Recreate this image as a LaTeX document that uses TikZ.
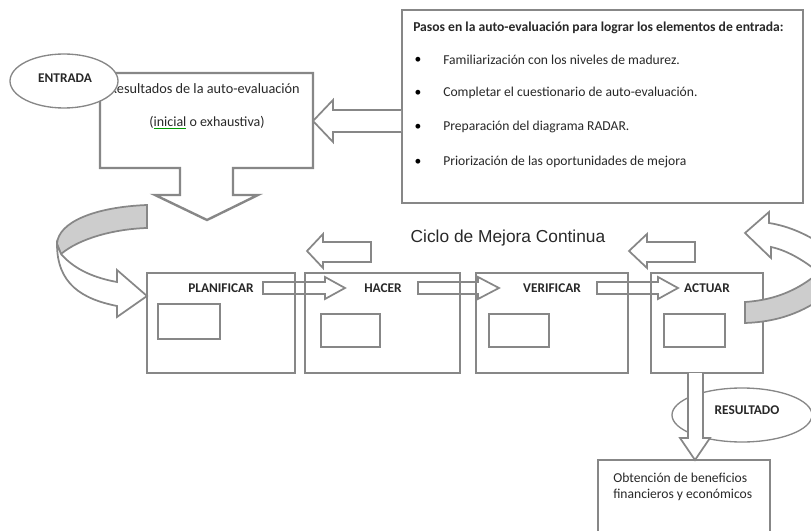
\documentclass[tikz,border=0pt]{standalone}
\usepackage{fontspec}
\setmainfont{Carlito}
\newfontfamily\arialf{Liberation Sans}
\usetikzlibrary{shapes.geometric}
\definecolor{boxgray}{RGB}{135,135,135}
\definecolor{bandgray}{RGB}{205,205,205}
\definecolor{txtc}{RGB}{40,40,40}
\begin{document}
\begin{tikzpicture}[x=0.75pt,y=-0.75pt,
  frame/.style={draw=boxgray, line width=1.8pt, line join=miter},
  innerbox/.style={draw=boxgray, line width=1.5pt},
  txt/.style={font=\fontsize{10.2}{12.75}\selectfont, text=txtc, inner sep=0pt},
  lbl/.style={font=\bfseries\fontsize{10}{12}\selectfont, text=txtc, inner sep=0pt},
  blockarrow/.style={draw=boxgray, line width=1.3pt, line join=miter},
  oval/.style={ellipse, draw=boxgray, line width=1pt, fill=white, inner sep=0pt},
]
\useasboundingbox (0,0) rectangle (811,531);
\clip (0,0) rectangle (811,531);

% ---------- results callout box ----------
\draw[frame, fill=white] (100,73) -- (313,73) -- (313,168) -- (233,168) -- (233,195) -- (258,195)
   -- (207,220) -- (155,195) -- (180,195) -- (180,168) -- (100,168) -- cycle;
\node[txt, font=\fontsize{10.7}{12.75}\selectfont, anchor=east] (res1) at (300,89) {Resultados de la auto-evaluación};
\node[txt, font=\fontsize{10.5}{12.75}\selectfont] (res2) at (207,123) {({\color{green!60!black}\underline{\color{txtc}inicial}} o exhaustiva)};

% ---------- ENTRADA ellipse ----------
\node[oval, minimum width=81pt, minimum height=40.5pt] (entrada) at (64,81) {};
\node[lbl] (entradat) at (65,78) {ENTRADA};

% ---------- steps box ----------
\draw[frame, fill=white] (402,10) rectangle (803,203);
\node[lbl, font=\bfseries\fontsize{10.2}{12}\selectfont, anchor=west] (pasos) at (413,28) {Pasos en la auto-evaluación para lograr los elementos de entrada:};
\foreach \y/\t [count=\i] in {60/{Familiarización con los niveles de madurez.},
                   93/{Completar el cuestionario de auto-evaluación.},
                   127/{Preparación del diagrama RADAR.},
                   162/{Priorización de las oportunidades de mejora}}{
  \node[txt, text=black] (b\i) at (418,\y) {\textbullet};
  \node[txt, anchor=west] (item\i) at (443,\y) {\t};
}

% ---------- arrow from steps box to results box ----------
\draw[blockarrow, fill=white] (401,110) -- (333,110) -- (333,100) -- (313,121) -- (333,142) -- (333,132) -- (401,132);

% ---------- title ----------
\node[font=\arialf\fontsize{13}{15}\selectfont, text=txtc, inner sep=0pt] (titulo) at (508,238) {Ciclo de Mejora Continua};

% ---------- PDCA boxes ----------
\draw[frame] (147,273) rectangle (295,373);
\draw[frame] (305,273) rectangle (460,373);
\draw[frame] (476,273) rectangle (628,373);
\draw[frame] (651,273) rectangle (763,373);
\draw[innerbox] (158,304) rectangle (220,339);
\draw[innerbox] (321,314) rectangle (380,347);
\draw[innerbox] (489,314) rectangle (549,347);
\draw[innerbox] (664,314) rectangle (725,347);
\node[lbl] (plan) at (221,288) {PLANIFICAR};
\node[lbl] (hacer) at (383,288) {HACER};
\node[lbl] (verif) at (552,288) {VERIFICAR};
\node[lbl] (actuar) at (707,288) {ACTUAR};

% small right arrows
\draw[blockarrow] (263,282) -- (325,282) -- (325,277) -- (345,288) -- (325,299) -- (325,294) -- (263,294) -- cycle;
\draw[blockarrow] (418,282) -- (478,282) -- (478,277) -- (499,288) -- (478,299) -- (478,294) -- (418,294) -- cycle;
\draw[blockarrow] (597,282) -- (658,282) -- (658,277) -- (678,288) -- (658,299) -- (658,294) -- (597,294) -- cycle;

% return arrows above
\draw[blockarrow, fill=white] (371,242) -- (323,242) -- (323,234) -- (307,251) -- (323,268) -- (323,262) -- (371,262) -- cycle;
\draw[blockarrow, fill=white] (695,242) -- (647,242) -- (647,234) -- (629,251) -- (647,268) -- (647,262) -- (695,262) -- cycle;

% ---------- left curved arrow ----------
\draw[blockarrow, fill=bandgray] (147,205) .. controls (95,207) and (58,222) .. (57,244) -- (61,254)
   .. controls (80,238) and (115,229) .. (147,228) -- cycle;
\draw[blockarrow, fill=white] (61,254) .. controls (75,270) and (95,278) .. (117,282) -- (117,270) -- (147,296)
   -- (117,317) -- (117,306) .. controls (82,299) and (57,284) .. (57,244) -- cycle;

% ---------- right curved arrow ----------
\draw[blockarrow, fill=white] (745,233) -- (769,212) -- (769,223) .. controls (788,226) and (808,234) .. (830,250)
   -- (830,282) .. controls (810,264) and (790,251) .. (771,247) -- (771,258) -- cycle;
\draw[blockarrow, fill=bandgray] (745,302) .. controls (775,300) and (803,290) .. (830,262) -- (830,292)
   .. controls (803,314) and (775,322) .. (745,323) -- cycle;

% ---------- RESULTADO ----------
\node[oval, minimum width=105pt, minimum height=40.5pt] (resultado) at (742,415) {};
\node[lbl] (resultadot) at (747,410) {RESULTADO};
\draw[blockarrow, fill=white] (688,373) -- (688,438) -- (680,438) -- (695,460) -- (710,438) -- (703,438) -- (703,373);

% ---------- output box ----------
\draw[frame] (598,540) -- (598,460) -- (770,460) -- (770,540);
\node[txt, anchor=west] (out1) at (613,478) {Obtención de beneficios};
\node[txt, anchor=west] (out2) at (613,495) {financieros y económicos};
\end{tikzpicture}
\end{document}
